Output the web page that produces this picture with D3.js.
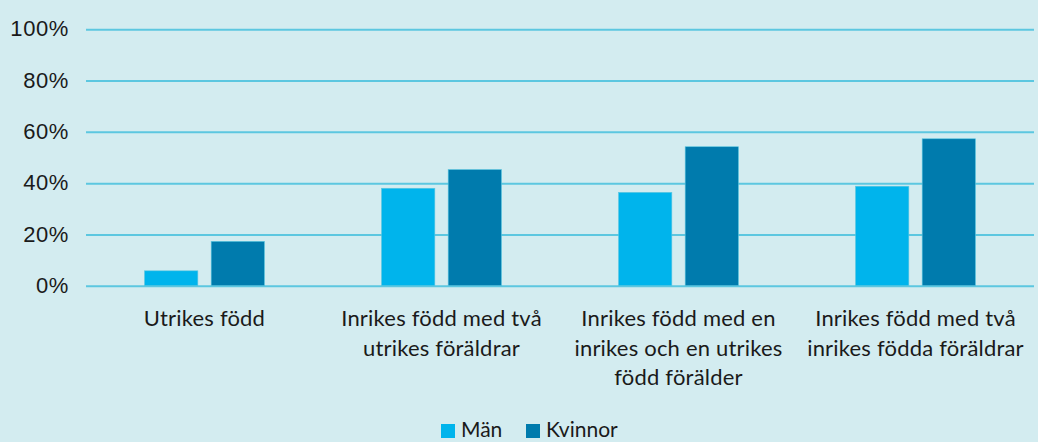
<!DOCTYPE html>
<html>
<head>
<meta charset="utf-8">
<script src="https://cdn.jsdelivr.net/npm/d3@7"></script>
<style>
  html, body { margin: 0; padding: 0; background: #d3ecf0; }
  svg { display: block; font-family: Lato, "Noto Sans", sans-serif; }
</style>
</head>
<body>
<div class="barChart"></div>
<script>
const WIDTH = 1038;
const HEIGHT = 442;

// data
var categories = [
    'Utrikes född',
    'Inrikes född med två\nutrikes föräldrar',
    'Inrikes född med en\ninrikes och en utrikes\nfödd förälder',
    'Inrikes född med två\ninrikes födda föräldrar'
];
var seriesNames = ['Män', 'Kvinnor'];
var menValues = [0.058, 0.38, 0.364, 0.388];
var womenValues = [0.173, 0.453, 0.542, 0.573];
var yTicks = [0, 0.2, 0.4, 0.6, 0.8, 1.0];

var colors = {'Män': '#00b4ec', 'Kvinnor': '#007bad'};

var PLOT_LEFT = 86;
var PLOT_RIGHT = 1034;
var PLOT_TOP = 29.3;
var PLOT_BOTTOM = 285.7;

var x0 = d3.scaleBand().domain(categories).range([PLOT_LEFT, PLOT_RIGHT])
    .paddingInner(0.494).paddingOuter(0.247);
var x1 = d3.scaleBand().domain(seriesNames).range([0, x0.bandwidth()])
    .paddingInner(0.2).paddingOuter(0);
var y = d3.scaleLinear().domain([0, 1]).range([PLOT_BOTTOM, PLOT_TOP]);

var svg = d3.select('.barChart').append('svg')
    .attr('width', WIDTH)
    .attr('height', HEIGHT);

svg.append('rect').attr('width', WIDTH).attr('height', HEIGHT).attr('fill', '#d3ecf0');

// gridlines + y labels
var yAxis = d3.axisLeft(y).tickValues(yTicks).tickFormat(d3.format('.0%'))
    .tickSize(-(PLOT_RIGHT - PLOT_LEFT)).tickPadding(17);
var yAxisG = svg.append('g').attr('transform', 'translate(' + PLOT_LEFT + ',0)').call(yAxis);
yAxisG.select('.domain').remove();
yAxisG.selectAll('.tick line').attr('stroke', '#5cc7e0').attr('stroke-width', 2);
yAxisG.selectAll('.tick text')
    .attr('fill', '#1a1a1a')
    .attr('dy', '0.3em')
    .style('font-size', '22px')
    .style('letter-spacing', '0.6px');

// bars
var rows = categories.map(function (c, i) {
    return {category: c, values: [
        {key: 'Män', value: menValues[i]},
        {key: 'Kvinnor', value: womenValues[i]}
    ]};
});

var groups = svg.append('g').selectAll('g').data(rows).enter().append('g')
    .attr('transform', function (d) { return 'translate(' + x0(d.category) + ',0)'; });

groups.selectAll('rect').data(function (d) { return d.values; }).enter().append('rect')
    .attr('x', function (d) { return x1(d.key); })
    .attr('y', function (d) { return y(d.value); })
    .attr('width', x1.bandwidth())
    .attr('height', function (d) { return y(0) - y(d.value); })
    .attr('fill', function (d) { return colors[d.key]; })
    .attr('stroke', '#5cc7e0')
    .attr('stroke-width', 0.6);

// x labels
var xLabels = svg.append('g').selectAll('text').data(categories).enter().append('text')
    .attr('x', function (d) { return x0(d) + x0.bandwidth() / 2; })
    .attr('y', 326)
    .attr('text-anchor', 'middle')
    .attr('fill', '#1a1a1a')
    .style('font-size', '22px')
    .style('letter-spacing', '0.2px');
xLabels.each(function (d) {
    var t = d3.select(this);
    d.split('\n').forEach(function (line, i) {
        t.append('tspan').attr('x', t.attr('x')).attr('dy', i === 0 ? 0 : 29.5).text(line);
    });
});

// legend
var legendX = [441, 526];
var legend = svg.append('g').selectAll('g').data(seriesNames).enter().append('g')
    .attr('transform', function (d, i) { return 'translate(' + legendX[i] + ',424)'; });
legend.append('rect').attr('width', 14).attr('height', 14)
    .attr('fill', function (d) { return colors[d]; });
legend.append('text').attr('x', 20).attr('y', 13)
    .attr('fill', '#1a1a1a')
    .style('font-size', '21px')
    .text(function (d) { return d; });
</script>
</body>
</html>
